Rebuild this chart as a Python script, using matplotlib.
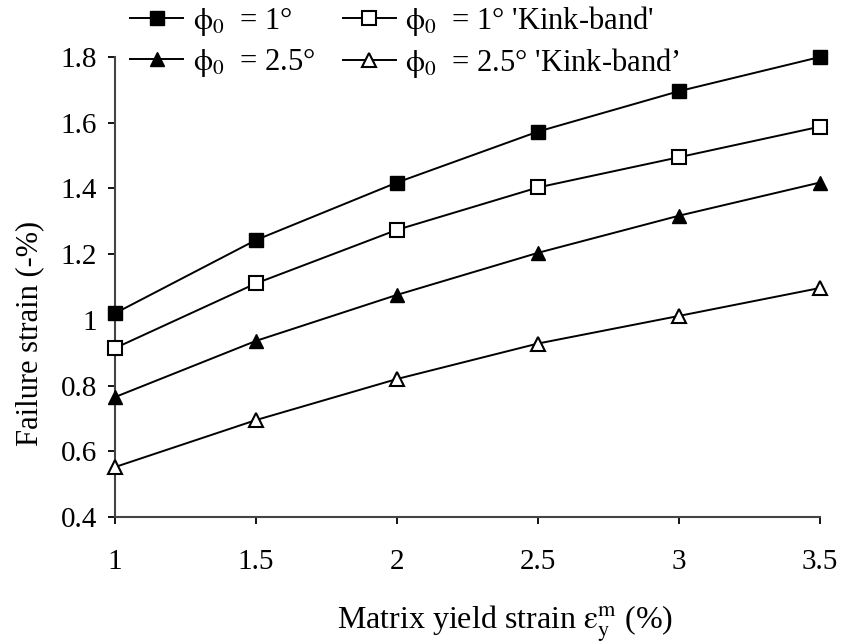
import numpy as np
import matplotlib.pyplot as plt

plt.rcParams['font.family'] = ['Liberation Serif', 'DejaVu Serif']
plt.rcParams['mathtext.fontset'] = 'stix'

# yield strain (%)
yield_strain = [1, 1.5, 2, 2.5, 3, 3.5]

# failure strain (%) per case
phi1 = [1.02, 1.243, 1.418, 1.573, 1.696, 1.80]
phi1_kink = [0.914, 1.111, 1.274, 1.403, 1.495, 1.588]
phi25 = [0.765, 0.936, 1.076, 1.204, 1.317, 1.418]
phi25_kink = [0.552, 0.695, 0.82, 0.928, 1.012, 1.097]

W, H = 846, 642
fig = plt.figure(figsize=(W / 100, H / 100), dpi=100)
ax = fig.add_axes([115 / W, 1 - 517 / H, 705 / W, 460 / H])

ms = 10
lw = 1.4
l1, = ax.plot(yield_strain, phi1, '-s', color='black', mfc='black', ms=ms, lw=lw, clip_on=False, zorder=3)
l2, = ax.plot(yield_strain, phi1_kink, '-s', color='black', mfc='white', mew=1.5, ms=ms, lw=lw, clip_on=False, zorder=3)
l3, = ax.plot(yield_strain, phi25, '-^', color='black', mfc='black', ms=ms, lw=lw, clip_on=False, zorder=3)
l4, = ax.plot(yield_strain, phi25_kink, '-^', color='black', mfc='white', mew=1.5, ms=ms, lw=lw, clip_on=False, zorder=3)

ax.set_xlim(1, 3.5)
ax.set_ylim(0.4, 1.8)
ax.set_xticks([1, 1.5, 2, 2.5, 3, 3.5])
ax.set_xticklabels(['1', '1.5', '2', '2.5', '3', '3.5'])
ax.set_yticks([0.4, 0.6, 0.8, 1.0, 1.2, 1.4, 1.6, 1.8])
ax.set_yticklabels(['0.4', '0.6', '0.8', '1', '1.2', '1.4', '1.6', '1.8'])

for s in ['top', 'right']:
    ax.spines[s].set_visible(False)
for s in ['left', 'bottom']:
    ax.spines[s].set_linewidth(1.5)
    ax.spines[s].set_color('#444444')
ax.tick_params(direction='out', length=5, width=1.3, labelsize=21, colors='black')
ax.tick_params(axis='x', pad=18)
ax.tick_params(axis='y', pad=8)

ax.set_xlabel(r'Matrix yield strain $\mathrm{\varepsilon}_\mathrm{y}^\mathrm{m}$ (%)', fontsize=23)
ax.xaxis.set_label_coords((505 - 115) / 705, (517 - 603) / 460)
ax.set_ylabel('Failure strain (-%)', fontsize=22)
ax.yaxis.set_label_coords((44 - 115) / 705, (517 - 333) / 460)

fig.legend([l1, l3, l2, l4],
           [r'$\mathrm{\phi}_0$  = 1°', r'$\mathrm{\phi}_0$  = 2.5°',
            r"$\mathrm{\phi}_0$  = 1° 'Kink-band'", r"$\mathrm{\phi}_0$  = 2.5° 'Kink-band’"],
           ncol=2, loc='upper left', bbox_to_anchor=(130 / W, 1 - 4 / H), frameon=False,
           fontsize=22, handlelength=1.75, handletextpad=0.3, columnspacing=0.9,
           labelspacing=0.25, borderaxespad=0, borderpad=0)

fig.savefig('out.png', dpi=100)
